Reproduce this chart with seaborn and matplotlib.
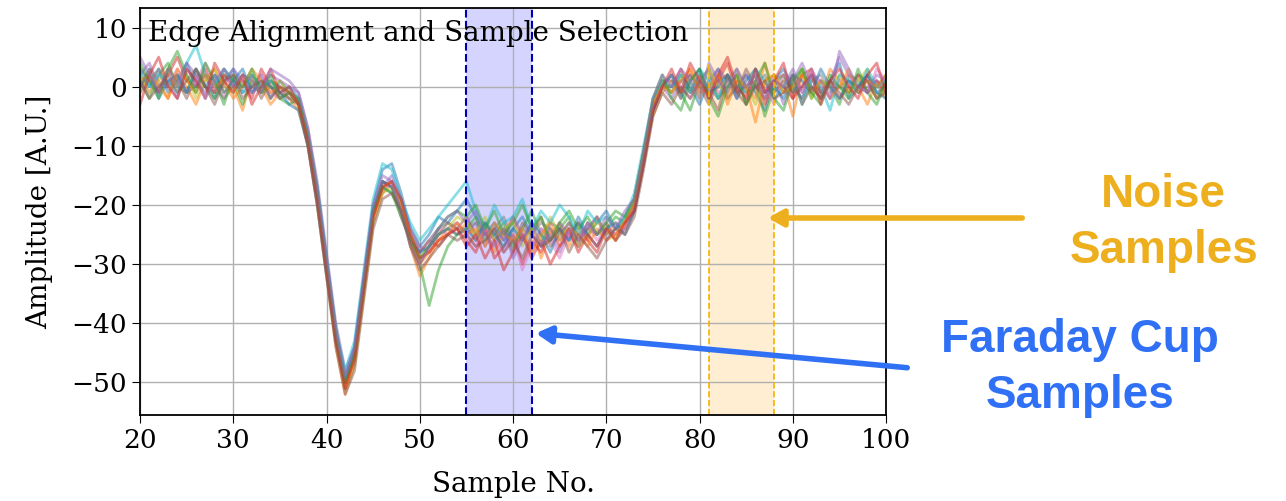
import numpy as np
import pandas as pd
import matplotlib
matplotlib.use('Agg')
import matplotlib.pyplot as plt
import seaborn as sns

plt.rcParams['font.family'] = 'DejaVu Serif'

samples = list(range(20, 101))

# each trace: baseline (20-36), edge (37-54), plateau (55-72), rise (73-76), tail (77-100)
traces = [
    [2, 0, 3, -1, 1, 4, 0, 2, -2, 1, 3, -1, 0, 2, -2, 1, -1,
     -3, -9, -19, -31, -43, -49, -44, -32, -20, -14, -13, -18, -24, -27, -25, -22, -23, -21,
     -19, -22, -25, -23, -26, -24, -22, -25, -27, -23, -24, -26, -22, -25, -23, -21, -24, -22,
     -19, -11, -3, 1,
     -1, 2, 0, -3, 1, 3, -2, 0, 2, -1, -4, 1, 3, 0, -2, 2, -1, 1, 4, -2, 0, 2, -1, 0],
    [-1, 3, 1, -2, 2, 0, -3, 1, 3, -1, 0, -4, 2, 0, -3, -1, -2,
     -4, -10, -20, -32, -44, -52, -47, -35, -23, -18, -16, -20, -27, -32, -29, -26, -24, -25,
     -23, -26, -24, -28, -25, -22, -26, -24, -29, -25, -23, -27, -24, -26, -22, -25, -23, -24,
     -21, -13, -5, -1,
     1, -2, 3, 0, -1, 2, -3, 1, 0, -2, 4, -1, 1, -5, 2, 0, -2, 3, 1, -1, 0, -3, 1, -2],
    [1, -2, 2, 4, 0, -1, 3, 0, -2, 2, 1, -3, 1, -1, 0, -2, -3,
     -2, -8, -17, -29, -41, -50, -46, -34, -22, -17, -18, -21, -26, -30, -37, -31, -27, -25,
     -24, -22, -26, -25, -23, -27, -24, -21, -25, -26, -24, -22, -27, -23, -25, -24, -22, -23,
     -20, -12, -4, 0,
     2, -1, -4, 1, 3, -2, 0, 2, -3, 1, -5, 0, 2, -1, 3, -2, 1, 0, -3, 2, 1, -1, 0, 2],
    [3, 1, -1, 2, 5, 1, 0, 3, -1, 2, 0, 1, -2, 3, 0, -2, -1,
     -3, -9, -18, -30, -42, -51, -45, -33, -21, -16, -17, -19, -25, -28, -26, -27, -25, -24,
     -26, -28, -24, -29, -27, -25, -30, -26, -28, -24, -27, -25, -23, -26, -28, -24, -25, -23,
     -20, -12, -4, 0,
     0, 3, -1, 2, -2, 1, 4, -1, 0, 2, -3, 1, 0, -2, 2, 3, -1, 1, -2, 0, 2, -1, 1, -1],
    [2, 4, 0, 1, -2, 3, 1, -1, 2, 0, 3, 1, -1, 0, 2, 1, 0,
     -1, -7, -16, -28, -40, -48, -44, -33, -22, -17, -15, -19, -24, -27, -28, -25, -24, -23,
     -25, -23, -27, -24, -26, -22, -25, -28, -24, -26, -23, -25, -27, -24, -22, -26, -24, -23,
     -21, -13, -4, 0,
     -2, 1, 2, -1, 0, 3, 1, -2, 2, 0, -1, 2, -3, 1, 4, 0, -2, 1, 5, 2, -1, 0, 1, 0],
    [0, 2, -1, 3, 1, -2, 2, 0, -1, 3, 1, 0, 2, -2, 1, 0, -2,
     -3, -10, -19, -31, -43, -50, -46, -34, -22, -16, -17, -22, -26, -30, -27, -25, -23, -24,
     -22, -25, -23, -26, -24, -28, -23, -25, -22, -27, -25, -23, -26, -24, -25, -23, -26, -24,
     -21, -12, -3, 1,
     1, -1, 2, 0, -3, 1, 2, -1, 3, 0, -2, 1, 2, -1, 0, 3, -2, 1, 0, -1, 2, 1, -2, 1],
    [1, -1, 2, 0, 3, -1, 1, 4, 0, -2, 2, 1, -1, 2, -1, -2, 0,
     -2, -8, -18, -30, -42, -49, -45, -33, -21, -18, -16, -20, -25, -28, -26, -24, -25, -23,
     -25, -27, -24, -26, -28, -25, -31, -27, -24, -26, -29, -25, -27, -23, -26, -24, -25, -24,
     -20, -11, -3, 0,
     2, 0, -2, 1, 3, -1, 0, 2, -2, 1, 0, -3, 2, 1, -1, 3, 0, -2, 1, 2, 0, -1, 3, 1],
    [-1, 1, 3, 0, 2, -1, 0, 2, 1, -2, 0, 2, 0, -1, 1, -1, -2,
     -2, -9, -18, -30, -41, -49, -45, -34, -22, -17, -16, -20, -25, -28, -26, -24, -23, -24,
     -24, -23, -25, -24, -22, -26, -24, -25, -23, -24, -26, -23, -25, -24, -22, -25, -24, -23,
     -20, -12, -4, 0,
     0, 1, -1, 2, 0, -2, 1, 3, -1, 0, 2, -1, 1, 0, -2, 1, 2, -1, 0, 1, -1, 2, 0, -1],
    [2, -1, 1, 3, 0, 2, -2, 1, 3, 0, -1, 2, 1, -1, 0, 1, -1,
     -3, -9, -19, -31, -42, -51, -47, -35, -23, -18, -17, -20, -25, -29, -27, -25, -24, -22,
     -23, -25, -22, -26, -24, -23, -27, -24, -26, -22, -25, -24, -27, -25, -23, -24, -26, -22,
     -19, -11, -3, 1,
     -1, 2, 1, -2, 3, 0, -1, 2, 0, -3, 1, 2, -1, 0, 3, -2, 1, 0, 2, -1, 1, 3, -2, 0],
    [3, 0, 2, 1, -1, 4, 7, 2, 0, 3, 1, -1, 2, 0, 1, -1, 0,
     -2, -8, -17, -29, -41, -48, -43, -31, -19, -13, -14, -19, -23, -26, -24, -22, -20, -18,
     -16, -21, -24, -20, -23, -22, -19, -24, -21, -23, -20, -22, -25, -21, -23, -22, -24, -22,
     -18, -10, -2, 1,
     0, 2, -1, 3, 1, -2, 2, 0, -1, 3, 1, -2, 0, 2, -3, 1, 0, -4, 2, 1, -1, 3, 0, 1],
    [0, 3, -2, 1, 2, -1, 3, 0, 2, -1, 1, 3, -1, 1, 0, -1, -3,
     -4, -10, -20, -32, -43, -50, -45, -33, -21, -16, -17, -21, -26, -28, -27, -25, -24, -25,
     -24, -26, -23, -25, -27, -24, -26, -23, -25, -28, -24, -26, -23, -25, -27, -24, -23, -25,
     -21, -13, -4, 0,
     2, -2, 1, 3, -1, 0, 2, -2, 1, 3, -1, 0, -2, 2, 1, -1, 3, 0, -2, 1, 0, 2, -1, -2],
    [1, 2, 0, -2, 3, 1, -1, 2, 0, 1, -2, 0, 3, 1, -1, 0, -1,
     -3, -9, -19, -31, -43, -51, -46, -34, -22, -17, -16, -20, -26, -30, -28, -26, -25, -23,
     -25, -24, -27, -23, -25, -26, -24, -28, -25, -23, -26, -24, -25, -27, -24, -26, -25, -23,
     -20, -12, -3, 0,
     -1, 1, 3, -1, 0, 2, -2, 1, 0, -6, 1, 2, -1, 0, 2, -1, 1, -2, 0, 3, -1, 1, 0, 2],
    [4, 1, -2, 3, 6, 2, -1, 4, 1, -3, 2, 0, 3, -1, 2, -2, -1,
     -2, -8, -18, -30, -42, -50, -45, -33, -21, -17, -18, -22, -26, -29, -27, -24, -22, -21,
     -22, -20, -24, -21, -25, -23, -20, -24, -22, -26, -23, -21, -24, -22, -25, -23, -21, -22,
     -19, -11, -2, 2,
     -2, -4, 1, 3, -2, -5, 0, 2, -3, 1, 4, -2, -4, 1, 3, -1, -3, 2, 0, -2, 3, -1, -3, 1],
    [-3, 2, 5, 0, -2, 3, 1, -2, 4, 1, -1, 2, -3, 0, 3, -1, 0,
     -3, -9, -19, -31, -43, -51, -46, -34, -22, -17, -16, -19, -25, -29, -28, -26, -25, -24,
     -27, -25, -29, -26, -31, -28, -25, -29, -26, -30, -27, -24, -28, -25, -27, -24, -26, -23,
     -21, -13, -4, 0,
     3, -1, 4, 1, -2, 2, 5, 0, -2, 3, -1, 1, 4, -2, 0, 2, -3, 1, 3, 0, -2, 2, 4, -1],
    [5, 2, -1, 3, 0, 4, 2, -2, 1, 3, 0, 2, 1, -1, 3, 2, 1,
     -1, -7, -17, -29, -41, -49, -44, -32, -20, -15, -16, -21, -27, -30, -27, -24, -22, -21,
     -23, -21, -25, -27, -24, -29, -26, -23, -27, -25, -28, -24, -26, -23, -25, -22, -24, -21,
     -19, -11, -2, 2,
     0, 3, 1, -2, 4, 1, -1, 3, 0, 2, -2, 1, 0, 3, -1, 2, 1, -2, 6, 3, 0, -1, 2, 1],
    [1, -2, 0, 2, -1, 1, 3, 0, -3, 1, 2, -2, 0, 1, -2, 0, -1,
     -3, -10, -20, -32, -44, -52, -48, -36, -24, -19, -18, -21, -27, -31, -29, -27, -25, -26,
     -25, -27, -26, -24, -28, -26, -29, -25, -27, -26, -24, -28, -25, -27, -29, -26, -24, -25,
     -22, -14, -5, -1,
     -3, 0, -2, 1, -1, -4, 2, -1, -3, 0, 1, -2, -1, 2, -3, 0, -2, 1, -1, -3, 0, 1, -2, -1],
]

fc_window = (55, 62)
noise_window = (81, 88)

rows = []
for i, tr in enumerate(traces):
    for s, v in zip(samples, tr):
        rows.append({'trace': i, 'sample': s, 'amp': v})
df = pd.DataFrame(rows)

fig = plt.figure(figsize=(12.86, 5.01), dpi=100)
ax = fig.add_axes([0.1089, 0.1717, 0.5801, 0.8123])

sns.lineplot(data=df, x='sample', y='amp', hue='trace',
             palette=sns.color_palette('tab10', len(traces)),
             alpha=0.5, linewidth=2, legend=False, ax=ax)

ax.axvspan(*fc_window, color='blue', alpha=0.17, lw=0)
for xv in fc_window:
    ax.axvline(xv, color='#0000b0', ls='--', lw=1.5)
ax.axvspan(*noise_window, color='#ffa500', alpha=0.18, lw=0)
for xv in noise_window:
    ax.axvline(xv, color='#f5b000', ls='--', lw=1.2)

ax.set_xlim(20, 100)
ax.set_ylim(-55.5, 13.3)
ax.set_xticks(range(20, 101, 10))
ax.set_yticks(range(-50, 11, 10))
ax.grid(True, color='#b0b0b0', lw=1)
ax.tick_params(labelsize=19, length=6)
ax.set_xlabel('Sample No.', fontsize=20, labelpad=13)
ax.set_ylabel('Amplitude [A.U.]', fontsize=20, labelpad=13)
for sp in ax.spines.values():
    sp.set_linewidth(1.3)
ax.text(0.01, 0.97, 'Edge Alignment and Sample Selection', transform=ax.transAxes,
        ha='left', va='top', fontsize=20)

orange = '#EEAF1F'
blue = '#3070F5'
fig.text(0.905, 0.555, 'Noise\nSamples', color=orange, fontsize=33, fontweight='bold',
         family='Liberation Sans', ha='center', va='center', linespacing=1.35)
fig.text(0.84, 0.265, 'Faraday Cup\nSamples', color=blue, fontsize=33, fontweight='bold',
         family='Liberation Sans', ha='center', va='center', linespacing=1.35)
fig.patches.append(matplotlib.patches.FancyArrowPatch(
    (1025 / 1286, 1 - 218 / 501), (765 / 1286, 1 - 218 / 501), transform=fig.transFigure,
    arrowstyle='-|>,head_length=9,head_width=5', color=orange, lw=4))
fig.patches.append(matplotlib.patches.FancyArrowPatch(
    (910 / 1286, 1 - 368 / 501), (533 / 1286, 1 - 333 / 501), transform=fig.transFigure,
    arrowstyle='-|>,head_length=9,head_width=5', color=blue, lw=4))

fig.savefig('out.png', dpi=100)
